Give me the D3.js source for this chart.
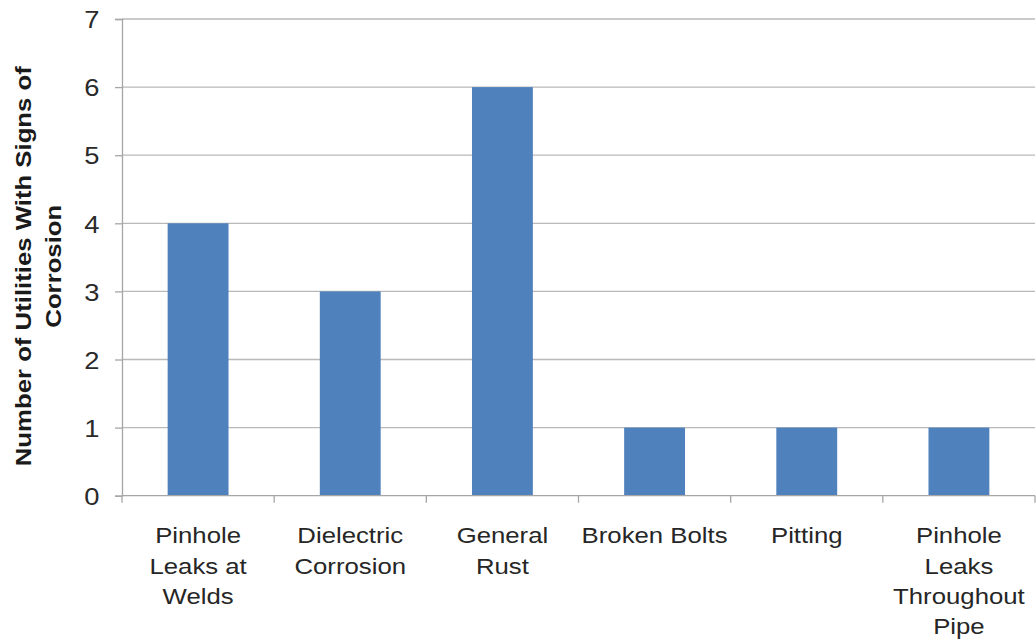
<!DOCTYPE html>
<html>
<head>
<meta charset="utf-8">
<script src="https://cdn.jsdelivr.net/npm/d3@7"></script>
<style>
  html, body { margin: 0; padding: 0; background: #fff; }
  svg { display: block; }
</style>
</head>
<body>
<svg id="chart" width="1036" height="643"></svg>
<script>
// Corrosion types observed and how many utilities reported each
const categories = [
  "Pinhole Leaks at Welds",
  "Dielectric Corrosion",
  "General Rust",
  "Broken Bolts",
  "Pitting",
  "Pinhole Leaks Throughout Pipe"
];
const categoryLines = [
  ["Pinhole", "Leaks at", "Welds"],
  ["Dielectric", "Corrosion"],
  ["General", "Rust"],
  ["Broken Bolts"],
  ["Pitting"],
  ["Pinhole", "Leaks", "Throughout", "Pipe"]
];
const utilities = [4, 3, 6, 1, 1, 1];
const yTicks = [0, 1, 2, 3, 4, 5, 6, 7];
const yTitleLines = ["Number of Utilities With Signs of", "Corrosion"];

const svg = d3.select("#chart");
const plotLeft = 122, plotRight = 1035, plotTop = 19, plotBottom = 495.7;
const fontFamily = "'Liberation Sans', Arial, sans-serif";
const stretch = 1.14;

const x = d3.scaleBand().domain(categories).range([plotLeft, plotRight]).paddingInner(0.6).paddingOuter(0.3);
const y = d3.scaleLinear().domain([0, 7]).range([plotBottom, plotTop]);

// horizontal gridlines
svg.append("g")
  .selectAll("line")
  .data(yTicks.filter(d => d > 0))
  .join("line")
  .attr("x1", plotLeft).attr("x2", plotRight)
  .attr("y1", d => y(d)).attr("y2", d => y(d))
  .attr("stroke", "#b9b9b9").attr("stroke-width", 1.3);

// bars
svg.append("g")
  .selectAll("rect")
  .data(categories)
  .join("rect")
  .attr("x", d => x(d))
  .attr("width", x.bandwidth())
  .attr("y", (d, i) => y(utilities[i]))
  .attr("height", (d, i) => y(0) - y(utilities[i]))
  .attr("fill", "#4f81bd");

// y axis
const yAxis = svg.append("g")
  .attr("transform", `translate(${plotLeft},0)`)
  .call(d3.axisLeft(y).tickValues(yTicks).tickSize(7).tickFormat(d3.format("d")));
yAxis.select(".domain").attr("stroke", "#a6a6a6").attr("stroke-width", 1.3);
yAxis.selectAll(".tick line").attr("stroke", "#a6a6a6").attr("stroke-width", 1.3);
yAxis.selectAll(".tick text").remove();
yAxis.selectAll(".tick")
  .append("text")
  .attr("transform", `translate(-22.5,8.7) scale(${stretch},1)`)
  .attr("text-anchor", "end")
  .attr("fill", "#2a2a2a")
  .style("font-family", fontFamily)
  .style("font-size", "24px")
  .text(d => d);

// x axis with boundary ticks between categories
const xAxis = svg.append("g");
xAxis.append("line")
  .attr("x1", plotLeft).attr("x2", plotRight)
  .attr("y1", plotBottom).attr("y2", plotBottom)
  .attr("stroke", "#a6a6a6").attr("stroke-width", 1.3);
const boundaries = d3.range(categories.length + 1).map(i => plotLeft + i * x.step());
xAxis.selectAll(".bt")
  .data(boundaries)
  .join("line")
  .attr("class", "bt")
  .attr("x1", d => d).attr("x2", d => d)
  .attr("y1", plotBottom).attr("y2", plotBottom + 7)
  .attr("stroke", "#a6a6a6").attr("stroke-width", 1.3);

// category labels
const labels = xAxis.selectAll(".cat")
  .data(categories)
  .join("g")
  .attr("class", "cat")
  .attr("transform", d => `translate(${x(d) + x.bandwidth() / 2},0)`);
labels.each(function(d, i) {
  d3.select(this).selectAll("text")
    .data(categoryLines[i])
    .join("text")
    .attr("transform", (t, j) => `translate(0,${543.3 + j * 30.3}) scale(${stretch - 0.02},1)`)
    .attr("text-anchor", "middle")
    .attr("fill", "#262626")
    .style("font-family", fontFamily)
    .style("font-size", "23px")
    .text(t => t);
});

// y axis title
const titleY = 266.2;
svg.append("g")
  .selectAll("text")
  .data(yTitleLines)
  .join("text")
  .attr("transform", (t, j) => `translate(${30.5 + j * 30.5},${titleY}) rotate(-90) scale(1.17,1)`)
  .attr("text-anchor", "middle")
  .attr("fill", "#1a1a1a")
  .style("font-family", fontFamily)
  .style("font-weight", "bold")
  .style("font-size", "22px")
  .text(t => t);
</script>
</body>
</html>
